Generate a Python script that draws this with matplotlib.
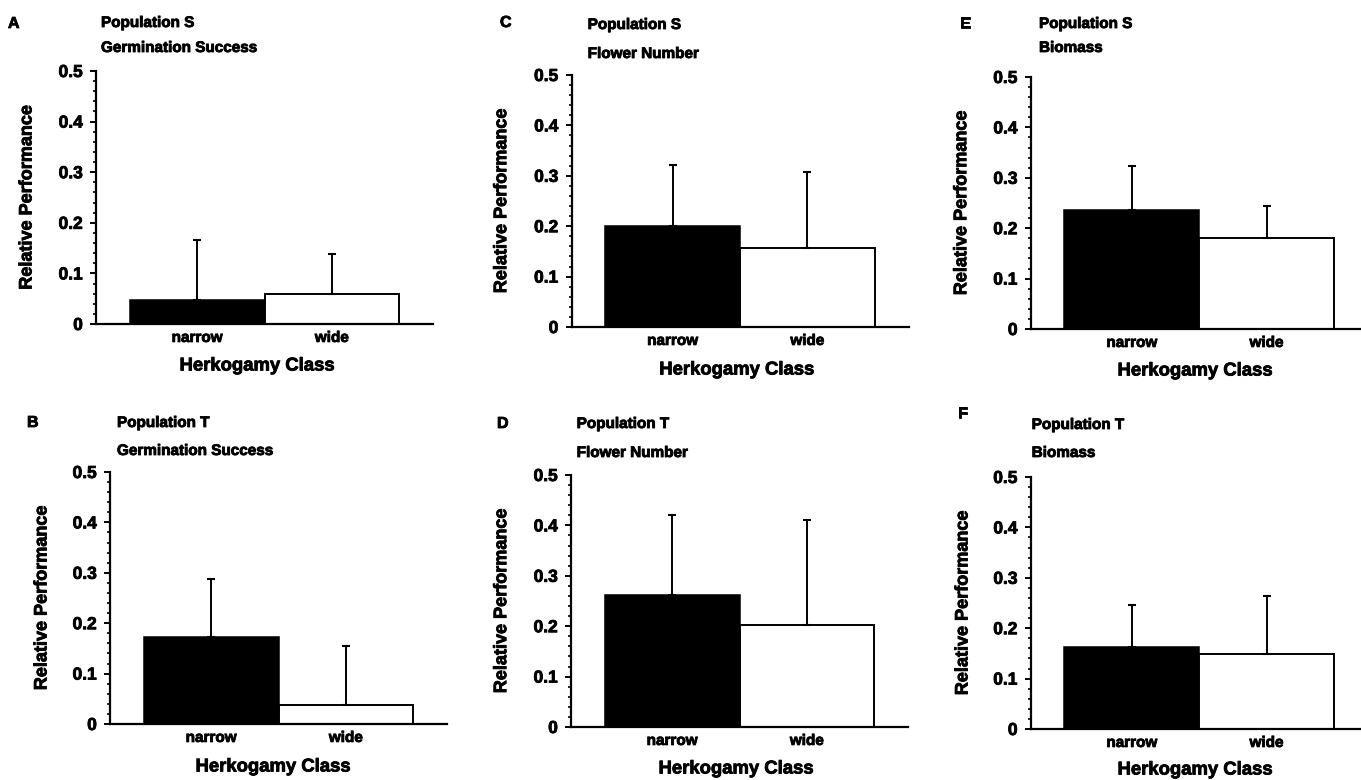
import matplotlib
matplotlib.use("Agg")
import matplotlib.pyplot as plt
import matplotlib.patheffects as pe
from matplotlib.ticker import MultipleLocator

# panel order: A, B, C, D, E, F
panel_letters = ["A", "B", "C", "D", "E", "F"]
populations = ["Population S", "Population T", "Population S",
               "Population T", "Population S", "Population T"]
traits = ["Germination Success", "Germination Success", "Flower Number",
          "Flower Number", "Biomass", "Biomass"]
classes = ["narrow", "wide"]
narrow_mean = [0.047, 0.173, 0.200, 0.261, 0.236, 0.163]
narrow_se = [0.119, 0.115, 0.121, 0.160, 0.088, 0.083]
wide_mean = [0.059, 0.038, 0.157, 0.202, 0.180, 0.148]
wide_se = [0.079, 0.117, 0.151, 0.208, 0.065, 0.115]
y_ticks = [0, 0.1, 0.2, 0.3, 0.4, 0.5]
y_tick_labels = ["0", "0.1", "0.2", "0.3", "0.4", "0.5"]

W, H = 1361, 780
FONT = "Liberation Sans"
# slight stroke so the text looks as heavy as the printed figure
HEAVY = [pe.withStroke(linewidth=0.6, foreground="black")]

# layout in pixels: axes left, axes top, axes bottom
ax_boxes = [(96, 71, 324), (110, 472, 724), (571.5, 75, 327),
            (571, 475, 727), (1030.7, 77, 329), (1030.7, 477, 729)]
ax_width = 337
# letter (x, baseline), title (x, baseline), trait baseline
letter_pos = [(8, 28), (27, 427), (500, 27), (497, 428), (960, 28), (958, 418)]
title_pos = [(101, 27), (117, 427), (587.7, 29), (576.7, 428), (1039, 28), (1031.7, 429)]
trait_base = [52, 455, 58, 457, 52, 457]
ylabel_x = [27, 42, 501.7, 501.7, 961.7, 963]
xlabel_pos = [(257, 366), (273, 767), (736.7, 370), (736, 769), (1195, 371), (1195, 770)]


def fx(x):
    return x / W


def fy(y):
    return 1 - y / H


def ftext(x, y, s, **kw):
    t = fig.text(fx(x), fy(y), s, fontweight="bold", family=FONT, **kw)
    t.set_path_effects(HEAVY)
    return t


fig = plt.figure(figsize=(W / 100, H / 100), dpi=100)

for i in range(6):
    left, top, bottom = ax_boxes[i]
    ax = fig.add_axes([fx(left), fy(bottom), ax_width / W, (bottom - top) / H])

    ax.bar([0], [narrow_mean[i]], width=1.0, color="black", edgecolor="black",
           linewidth=1.1, zorder=2)
    ax.bar([1], [wide_mean[i]], width=1.0, color="white", edgecolor="black",
           linewidth=1.4, zorder=2)
    ax.errorbar([0, 1], [narrow_mean[i], wide_mean[i]],
                yerr=[[0, 0], [narrow_se[i], wide_se[i]]],
                fmt="none", ecolor="black", elinewidth=1.4, capsize=3,
                capthick=1.5, zorder=3)

    ax.set_xlim(-0.75, 1.75)
    ax.set_ylim(0, 0.5)
    ax.set_xticks([0, 1])
    ax.set_xticklabels(classes, fontsize=11, fontweight="bold", family=FONT)
    ax.set_yticks(y_ticks)
    ax.set_yticklabels(y_tick_labels, fontsize=12.5, fontweight="bold", family=FONT)
    for lab in ax.get_xticklabels() + ax.get_yticklabels():
        lab.set_path_effects(HEAVY)
    ax.yaxis.set_minor_locator(MultipleLocator(0.02))
    ax.tick_params(axis="x", length=0, pad=5)
    ax.tick_params(axis="y", which="major", direction="out", length=4.5,
                   width=1.4, pad=5)
    ax.tick_params(axis="y", which="minor", direction="out", length=2.5, width=1.2)
    for s in ["top", "right"]:
        ax.spines[s].set_visible(False)
    for s in ["left", "bottom"]:
        ax.spines[s].set_linewidth(1.6)

    # panel texts
    lx, ly = letter_pos[i]
    ftext(lx, ly, panel_letters[i], fontsize=11.5, va="baseline", ha="left")
    tx, ty = title_pos[i]
    ftext(tx, ty, populations[i], fontsize=11, va="baseline", ha="left")
    ftext(tx, trait_base[i], traits[i], fontsize=11, va="baseline", ha="left")
    ftext(ylabel_x[i], (top + bottom) / 2, "Relative Performance", rotation=90,
          fontsize=13, va="center", ha="center")
    xx, xy = xlabel_pos[i]
    ftext(xx, xy, "Herkogamy Class", fontsize=13.3, va="center", ha="center")

fig.savefig("out.png", dpi=100)
